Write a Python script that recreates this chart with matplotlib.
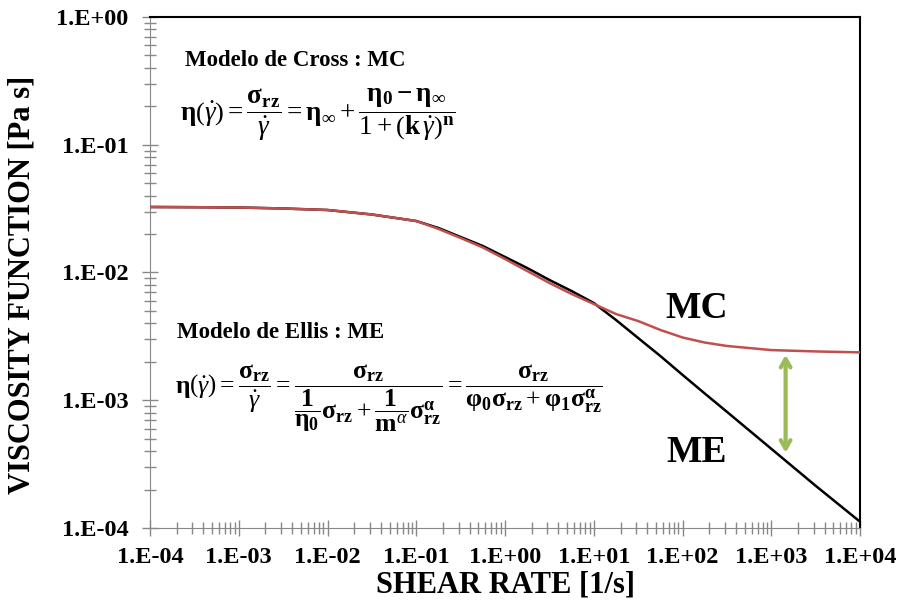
import numpy as np
import matplotlib.pyplot as plt
from matplotlib.ticker import LogLocator, FuncFormatter, NullFormatter

plt.rcParams['font.family'] = ['Liberation Serif', 'DejaVu Serif']
plt.rcParams['mathtext.fontset'] = 'custom'
plt.rcParams['mathtext.rm'] = 'Liberation Serif'
plt.rcParams['mathtext.it'] = 'Liberation Serif:italic'
plt.rcParams['mathtext.bf'] = 'Liberation Serif:bold'

# shear rate [1/s]
shear_rate = [1e-4, 10**-3.5, 1e-3, 10**-2.5, 1e-2, 10**-1.5, 1e-1, 10**-0.75,
              10**-0.5, 10**-0.25, 1e0, 10**0.25, 10**0.5, 10**0.75, 1e1, 10**1.25,
              10**1.5, 10**1.75, 1e2, 10**2.25, 10**2.5, 1e3, 10**3.5, 1e4]
# Ellis model (black)
visc_me = [0.03256, 0.03244, 0.03226, 0.03170, 0.03084, 0.02844, 0.02529, 0.02230,
           0.01896, 0.01612, 0.01322, 0.01084, 0.00874, 0.00716, 0.00577, 0.00425,
           0.00307, 0.00222, 0.00158, 0.00113, 0.000812, 0.000417, 0.000214, 0.000112]
# Cross model (red)
visc_mc = [0.03256, 0.03244, 0.03226, 0.03170, 0.03084, 0.02844, 0.02529, 0.02193,
           0.01862, 0.01569, 0.01275, 0.01027, 0.00828, 0.00679, 0.00567, 0.00473,
           0.00417, 0.00355, 0.00310, 0.00283, 0.00266, 0.00247, 0.00241, 0.00237]

arrow_x = 1.45e3
arrow_top = 0.00238
arrow_bottom = 0.00037

fig = plt.figure(figsize=(9, 6.04), dpi=100)
ax = fig.add_axes([0.1667, 0.1258, 0.7889, 0.8461])

ax.plot(shear_rate, visc_me, color='black', lw=1.8, zorder=3)
ax.plot(shear_rate, visc_mc, color='#C0504D', lw=1.8, zorder=4)

ax.set_xscale('log')
ax.set_yscale('log')
ax.set_xlim(1e-4, 1e4)
ax.set_ylim(1e-4, 1e0)

def fmt(v, pos):
    e = int(round(np.log10(v)))
    return f"1.E{e:+03d}"

for axis in (ax.xaxis, ax.yaxis):
    axis.set_major_locator(LogLocator(base=10, numticks=20))
    axis.set_minor_locator(LogLocator(base=10, subs=np.arange(2, 10), numticks=20))
    axis.set_major_formatter(FuncFormatter(fmt))
    axis.set_minor_formatter(NullFormatter())

ax.tick_params(which='both', direction='inout', color='#888888')
ax.tick_params(which='major', length=11, width=1)
ax.tick_params(which='minor', length=9, width=1)
ax.tick_params(axis='x', which='major', pad=8, labelsize=17.5)
ax.tick_params(axis='y', which='major', pad=10, labelsize=17.5)
for lab in ax.get_xticklabels() + ax.get_yticklabels():
    lab.set_fontweight('bold')

ax.spines['left'].set_color('#888888')
ax.spines['bottom'].set_color('#888888')
ax.spines['top'].set_linewidth(1.5)
ax.spines['right'].set_linewidth(1.5)

ax.set_xlabel('SHEAR RATE [1/s]', fontsize=22, fontweight='bold', labelpad=2)
ax.set_ylabel('VISCOSITY FUNCTION [Pa s]', fontsize=22, fontweight='bold')
ax.yaxis.set_label_coords(-0.16, 0.476)

ax.annotate('', xy=(arrow_x, arrow_top), xytext=(arrow_x, arrow_bottom),
            arrowprops=dict(arrowstyle='<->,head_length=0.6,head_width=0.35',
                            color='#9BBB59', lw=3), zorder=5)

# coordinates below are pixels from top-left, flipped for matplotlib
W, H = 900, 604
fig.text(697 / W, 1 - 308 / H, 'MC', fontsize=27, fontweight='bold',
         ha='center', va='center')
fig.text(697 / W, 1 - 452 / H, 'ME', fontsize=27, fontweight='bold',
         ha='center', va='center')

fig.text(185 / W, 1 - 61 / H, 'Modelo de Cross : MC', fontsize=16.5, fontweight='bold',
         ha='left', va='center')
fig.text(180 / W, 1 - 121 / H,
         r'$\mathbf{\eta}\left(\dot{\gamma}\right) = \dfrac{\mathbf{\sigma_{rz}}}{\dot{\gamma}}'
         r' = \mathbf{\eta_\infty} + \dfrac{\mathbf{\eta_0 - \eta_\infty}}'
         r'{1+\left(\mathbf{k}\,\dot{\gamma}\right)^{\mathbf{n}}}$',
         fontsize=19.5, ha='left', va='baseline')
fig.text(177 / W, 1 - 333 / H, 'Modelo de Ellis : ME', fontsize=16.5, fontweight='bold',
         ha='left', va='center')
fig.text(175 / W, 1 - 394 / H,
         r'$\mathbf{\eta}\left(\dot{\gamma}\right) = \dfrac{\mathbf{\sigma_{rz}}}{\dot{\gamma}}'
         r' = \dfrac{\mathbf{\sigma_{rz}}}{\dfrac{\mathbf{1}}{\mathbf{\eta_0}}\mathbf{\sigma_{rz}}'
         r' + \dfrac{\mathbf{1}}{\mathbf{m}^{\alpha}}\mathbf{\sigma_{rz}^{\alpha}}}'
         r' = \dfrac{\mathbf{\sigma_{rz}}}{\mathbf{\varphi_0\sigma_{rz}} + \mathbf{\varphi_1}\mathbf{\sigma_{rz}^{\alpha}}}$',
         fontsize=18.5, ha='left', va='baseline')

fig.savefig('out.png', dpi=100)
